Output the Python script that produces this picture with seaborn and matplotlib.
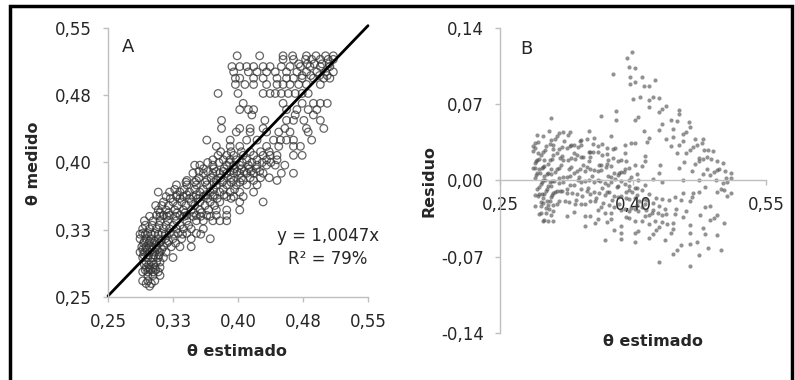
import matplotlib
matplotlib.use("Agg")
import matplotlib.pyplot as plt
from matplotlib.patches import Rectangle
import numpy as np
import pandas as pd
import seaborn as sns

# ---- data ----
slope = 1.0047
r2_text = "R² = 79%"

# measured theta levels and estimated theta values of the points on each level
theta_med_levels = [
    0.519, 0.515, 0.510, 0.507, 0.501, 0.497, 0.494, 0.487, 0.477, 0.466,
    0.459, 0.453, 0.447, 0.438, 0.434, 0.425, 0.418, 0.412, 0.408, 0.403,
    0.400, 0.397, 0.393, 0.390, 0.388, 0.383, 0.380, 0.378, 0.375, 0.370,
    0.367, 0.364, 0.362, 0.360, 0.356, 0.352, 0.347, 0.344, 0.341, 0.340,
    0.335, 0.330, 0.326, 0.321, 0.320, 0.315, 0.312, 0.310, 0.306, 0.303,
    0.300, 0.297, 0.294, 0.289, 0.286, 0.283, 0.280, 0.278, 0.274, 0.268,
    0.265, 0.262,
]
theta_est_by_level = [
    [0.399, 0.425, 0.452, 0.463, 0.479, 0.490, 0.501, 0.510],
    [0.452, 0.464, 0.478, 0.485, 0.495, 0.504, 0.510],
    [0.470, 0.480, 0.488, 0.497, 0.505],
    [0.393, 0.402, 0.410, 0.418, 0.429, 0.437, 0.450, 0.460, 0.472, 0.483, 0.495, 0.506],
    [0.395, 0.412, 0.422, 0.433, 0.443, 0.456, 0.468, 0.479, 0.491, 0.501, 0.510],
    [0.474, 0.484, 0.494, 0.503],
    [0.397, 0.402, 0.418, 0.429, 0.445, 0.456, 0.464, 0.474, 0.487, 0.499, 0.506],
    [0.397, 0.408, 0.418, 0.433, 0.445, 0.452, 0.460, 0.470, 0.479, 0.495],
    [0.377, 0.400, 0.429, 0.437, 0.443, 0.450, 0.458, 0.466, 0.474, 0.481],
    [0.406, 0.452, 0.474, 0.487, 0.495, 0.503],
    [0.402, 0.412, 0.418, 0.456, 0.468, 0.481, 0.491],
    [0.416, 0.466, 0.487],
    [0.381, 0.431, 0.456, 0.464, 0.476, 0.495],
    [0.381, 0.402, 0.414, 0.429, 0.454, 0.479, 0.499],
    [0.398, 0.414, 0.433, 0.447, 0.460, 0.481],
    [0.364, 0.391, 0.410, 0.422, 0.441, 0.449, 0.456, 0.464, 0.485],
    [0.375, 0.391, 0.402, 0.433, 0.447, 0.464, 0.472],
    [0.380, 0.392, 0.404, 0.414, 0.426, 0.436],
    [0.377, 0.387, 0.395, 0.406, 0.418, 0.429, 0.437, 0.445, 0.464, 0.474],
    [0.371, 0.383, 0.391, 0.398, 0.410, 0.422, 0.433, 0.445],
    [0.365, 0.378, 0.390, 0.405, 0.416, 0.428, 0.438],
    [0.350, 0.356, 0.371, 0.387, 0.395, 0.402, 0.412, 0.422, 0.433, 0.443, 0.454],
    [0.360, 0.372, 0.384, 0.396, 0.404, 0.413, 0.421],
    [0.355, 0.365, 0.375, 0.383, 0.391, 0.399, 0.407, 0.415, 0.425],
    [0.348, 0.360, 0.371, 0.379, 0.387, 0.395, 0.402, 0.410, 0.418, 0.429, 0.450, 0.464],
    [0.355, 0.369, 0.380, 0.392, 0.404, 0.414, 0.426, 0.436],
    [0.341, 0.352, 0.364, 0.375, 0.383, 0.395, 0.406, 0.418, 0.445],
    [0.340, 0.350, 0.362, 0.372, 0.382, 0.392, 0.402],
    [0.329, 0.341, 0.352, 0.364, 0.375, 0.387, 0.398, 0.410, 0.422],
    [0.327, 0.338, 0.350, 0.360, 0.372, 0.383, 0.396],
    [0.308, 0.321, 0.333, 0.344, 0.356, 0.368, 0.379, 0.391, 0.402, 0.418],
    [0.330, 0.341, 0.352, 0.363, 0.373, 0.384],
    [0.317, 0.329, 0.337, 0.348, 0.360, 0.371, 0.387, 0.395, 0.406],
    [0.322, 0.333, 0.344, 0.354, 0.365, 0.376, 0.392],
    [0.314, 0.325, 0.335, 0.346, 0.356, 0.368, 0.379, 0.402, 0.429],
    [0.305, 0.312, 0.320, 0.330, 0.340, 0.350, 0.362, 0.373],
    [0.308, 0.317, 0.327, 0.337, 0.346, 0.356, 0.366, 0.375, 0.387, 0.402],
    [0.310, 0.320, 0.330, 0.339, 0.349, 0.358],
    [0.306, 0.314, 0.321, 0.333, 0.341, 0.352, 0.364, 0.375, 0.387],
    [0.298, 0.310, 0.318, 0.328, 0.338, 0.348, 0.357, 0.368],
    [0.292, 0.302, 0.310, 0.319, 0.329, 0.341, 0.352, 0.360, 0.371, 0.379, 0.387],
    [0.293, 0.301, 0.309, 0.317, 0.325, 0.333, 0.343],
    [0.290, 0.298, 0.306, 0.314, 0.321, 0.329, 0.337, 0.346, 0.360],
    [0.290, 0.296, 0.304, 0.312, 0.321, 0.331, 0.341, 0.352],
    [0.287, 0.293, 0.300, 0.308, 0.316, 0.326, 0.336, 0.357],
    [0.287, 0.294, 0.300, 0.308, 0.316, 0.325, 0.335, 0.346, 0.368],
    [0.292, 0.298, 0.304, 0.311, 0.320],
    [0.291, 0.297, 0.303, 0.309, 0.318, 0.328],
    [0.289, 0.294, 0.300, 0.306, 0.314, 0.323, 0.333, 0.346],
    [0.290, 0.295, 0.301, 0.307, 0.312],
    [0.287, 0.292, 0.298, 0.304, 0.310, 0.317],
    [0.291, 0.297, 0.303, 0.309],
    [0.290, 0.296, 0.302, 0.308, 0.314, 0.325],
    [0.294, 0.300, 0.306, 0.310],
    [0.292, 0.297, 0.303],
    [0.294, 0.298, 0.304, 0.310],
    [0.293, 0.299, 0.305],
    [0.290, 0.296, 0.302, 0.308],
    [0.296, 0.302, 0.310],
    [0.290, 0.296, 0.304],
    [0.294, 0.300],
    [0.298],
]

a_ticks = [0.25, 0.325, 0.40, 0.475, 0.55]
a_ticklabels = ["0,25", "0,33", "0,40", "0,48", "0,55"]
b_xticks = [0.25, 0.40, 0.55]
b_xticklabels = ["0,25", "0,40", "0,55"]
b_yticks = [-0.14, -0.07, 0.0, 0.07, 0.14]
b_yticklabels = ["-0,14", "-0,07", "0,00", "0,07", "0,14"]

# ---- table ----
est, med = [], []
for lvl, xs in zip(theta_med_levels, theta_est_by_level):
    est.extend(xs)
    med.extend([lvl] * len(xs))
df = pd.DataFrame({"est": est, "med": med})
df["resid"] = df["med"] - slope * df["est"]

# ---- style ----
sns.set_theme(style="white")
plt.rcParams["font.family"] = ["DejaVu Sans"]
SPINE = "#BFBFBF"
TXT = "#262626"

W, H = 795, 380
fig = plt.figure(figsize=(W / 100, H / 100), dpi=100)


def fx(x):
    return x / W


def fy(y):
    return 1 - y / H


axA = fig.add_axes([fx(108), fy(297), 260 / W, 269 / H])
axB = fig.add_axes([fx(500), fy(333), 266 / W, 305 / H])

# panel A
sns.scatterplot(data=df, x="est", y="med", ax=axA, s=30, facecolors="none",
                edgecolor="#333333", linewidth=0.9, alpha=0.75, legend=False)
line_x = np.array([0.25, 0.55])
sns.lineplot(x=line_x, y=slope * line_x, ax=axA, color="black", linewidth=2.0)
for ln in axA.lines:
    ln.set_clip_on(False)
axA.set_xlim(0.25, 0.55)
axA.set_ylim(0.25, 0.55)
axA.set_xticks(a_ticks)
axA.set_xticklabels(a_ticklabels)
axA.set_yticks(a_ticks)
axA.set_yticklabels(a_ticklabels)
axA.set_xlabel("")
axA.set_ylabel("")
for side in ["top", "right"]:
    axA.spines[side].set_visible(False)
for side in ["left", "bottom"]:
    axA.spines[side].set_color(SPINE)
    axA.spines[side].set_linewidth(1.0)
axA.tick_params(axis="both", which="major", direction="out", length=3.5,
                width=1.0, color=SPINE, labelcolor=TXT, labelsize=12, pad=8,
                left=True, bottom=True)
axA.text(0.077, 0.93, "A", transform=axA.transAxes, fontsize=13, color=TXT,
         ha="center", va="center")
axA.text(0.845, 0.228, "y = 1,0047x", transform=axA.transAxes, fontsize=12,
         color=TXT, ha="center", va="center")
axA.text(0.845, 0.142, r2_text, transform=axA.transAxes, fontsize=12,
         color=TXT, ha="center", va="center")

# panel B
sns.scatterplot(data=df, x="est", y="resid", ax=axB, s=9, color="#4a4a4a",
                alpha=0.6, linewidth=0, legend=False)
axB.set_xlim(0.25, 0.55)
axB.set_ylim(-0.14, 0.14)
axB.set_xticks(b_xticks)
axB.set_xticklabels(b_xticklabels)
axB.set_yticks(b_yticks)
axB.set_yticklabels(b_yticklabels)
axB.set_xlabel("")
axB.set_ylabel("")
for side in ["top", "right"]:
    axB.spines[side].set_visible(False)
axB.spines["bottom"].set_position(("data", 0.0))
for side in ["left", "bottom"]:
    axB.spines[side].set_color(SPINE)
    axB.spines[side].set_linewidth(1.0)
axB.tick_params(axis="both", which="major", direction="out", length=3.5,
                width=1.0, color=SPINE, labelcolor=TXT, labelsize=12, pad=8,
                left=True, bottom=True)
axB.text(0.10, 0.93, "B", transform=axB.transAxes, fontsize=13, color=TXT,
         ha="center", va="center")

# axis titles
fig.text(fx(33), fy(163), "θ medido", rotation=90, fontsize=11.5,
         fontweight="bold", color=TXT, ha="center", va="center")
fig.text(fx(237), fy(352), "θ estimado", fontsize=11.5, fontweight="bold",
         color=TXT, ha="center", va="center")
fig.text(fx(429), fy(181), "Residuo", rotation=90, fontsize=11.5,
         fontweight="bold", color=TXT, ha="center", va="center")
fig.text(fx(653), fy(341), "θ estimado", fontsize=11.5, fontweight="bold",
         color=TXT, ha="center", va="center")

# outer frame
fig.patches.append(Rectangle((fx(10), -0.05), fx(792) - fx(10), fy(5.5) + 0.05,
                             transform=fig.transFigure, fill=False,
                             edgecolor="black", linewidth=2.5))

fig.savefig("out.png", dpi=100)
